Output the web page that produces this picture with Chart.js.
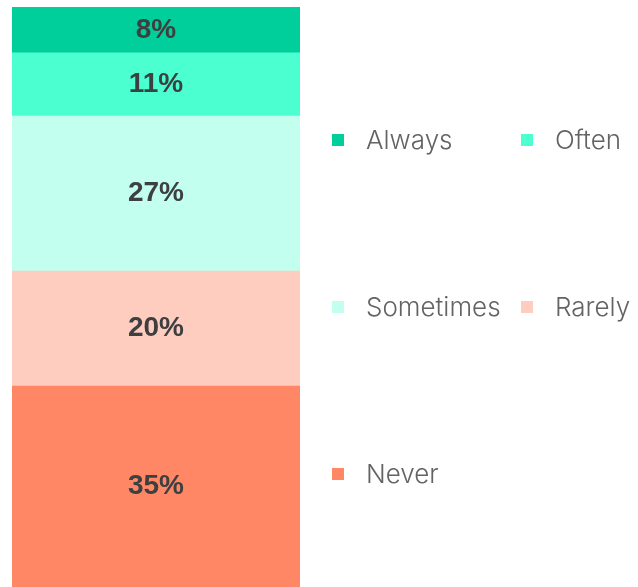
<!DOCTYPE html>
<html>
<head>
<meta charset="utf-8">
<script src="https://cdn.jsdelivr.net/npm/chart.js@4"></script>
<style>
  html, body { margin: 0; padding: 0; background: #fff; }
  #wrap { position: relative; width: 638px; height: 587px; overflow: hidden; }
  #chart { position: absolute; left: 0; top: 0; }
  #legend {
    position: absolute; left: 332px; top: 56px;
    display: grid; grid-template-columns: 189px 189px; grid-auto-rows: 167px;
    font-family: "Inter", "Roboto", "Liberation Sans", sans-serif;
    font-weight: 300; font-size: 26px; color: #636363;
  }
  .item { display: flex; align-items: center; white-space: nowrap; }
  .box { width: 12px; height: 12px; margin-right: 22px; flex: none; }
</style>
</head>
<body>
<div id="wrap">
  <canvas id="chart" width="638" height="587"></canvas>
  <div id="legend"></div>
</div>
<script>
// Answer categories, bottom of the stack first
const categories = ["Never", "Rarely", "Sometimes", "Often", "Always"];
const shares = [35, 20, 27, 11, 8];
const colors = ["#ff8766", "#ffccc0", "#c3ffee", "#4bffd0", "#00ce9b"];

const total = shares.reduce((a, b) => a + b, 0);

// Percentage text drawn in the middle of each segment
const segmentLabels = {
  id: "segmentLabels",
  afterDatasetsDraw(chart) {
    const ctx = chart.ctx;
    ctx.save();
    ctx.font = "bold 28px 'Liberation Sans', Arial, sans-serif";
    ctx.fillStyle = "#3d4040";
    ctx.textAlign = "center";
    ctx.textBaseline = "middle";
    chart.data.datasets.forEach((ds, i) => {
      const bar = chart.getDatasetMeta(i).data[0];
      const p = bar.getProps(["x", "y", "base"], true);
      ctx.fillText(ds.data[0] + "%", p.x, (p.y + p.base) / 2);
    });
    ctx.restore();
  }
};

const chart = new Chart(document.getElementById("chart"), {
  type: "bar",
  data: {
    labels: [""],
    datasets: categories.map((name, i) => ({
      label: name,
      data: [shares[i]],
      backgroundColor: colors[i],
      borderWidth: 0,
      barPercentage: 1,
      categoryPercentage: 1
    }))
  },
  options: {
    responsive: false,
    animation: false,
    layout: { padding: { left: 12, right: 338, top: 7, bottom: 0 } },
    scales: {
      x: { stacked: true, display: false },
      y: { stacked: true, display: false, min: 0, max: total }
    },
    plugins: { legend: { display: false }, tooltip: { enabled: false } }
  },
  plugins: [segmentLabels]
});

// Two-column legend, top of the stack first
const legend = document.getElementById("legend");
chart.data.datasets.slice().reverse().forEach(ds => {
  const item = document.createElement("div");
  item.className = "item";
  const box = document.createElement("span");
  box.className = "box";
  box.style.background = ds.backgroundColor;
  const txt = document.createElement("span");
  txt.textContent = ds.label;
  item.appendChild(box);
  item.appendChild(txt);
  legend.appendChild(item);
});
</script>
</body>
</html>
